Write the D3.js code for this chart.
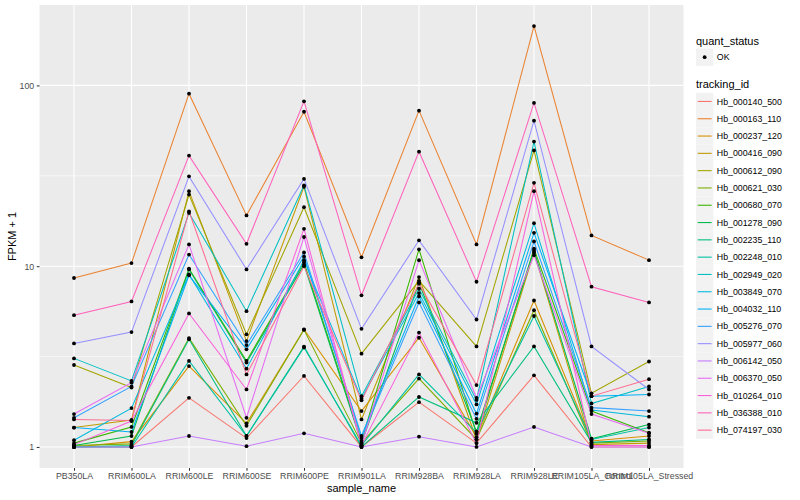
<!DOCTYPE html>
<html>
<head>
<meta charset="utf-8">
<script src="https://cdn.jsdelivr.net/npm/d3@7"></script>
<style>
  body { margin: 0; background: #fff; }
  text { font-family: "Liberation Sans", Arial, sans-serif; }
</style>
</head>
<body>
<div id="chart"></div>
<script>
// samples on the x axis
var samples = ["PB350LA", "RRIM600LA", "RRIM600LE", "RRIM600SE", "RRIM600PE", "RRIM901LA",
  "RRIM928BA", "RRIM928LA", "RRIM928LE", "RRIM105LA_Control", "RRIM105LA_Stressed"];

// tracking ids (legend order)
var trackingIds = ["Hb_000140_500", "Hb_000163_110", "Hb_000237_120", "Hb_000416_090", "Hb_000612_090",
  "Hb_000621_030", "Hb_000680_070", "Hb_001278_090", "Hb_002235_110", "Hb_002248_010",
  "Hb_002949_020", "Hb_003849_070", "Hb_004032_110", "Hb_005276_070", "Hb_005977_060",
  "Hb_006142_050", "Hb_006370_050", "Hb_010264_010", "Hb_036388_010", "Hb_074197_030"];

// FPKM + 1 per tracking id, one value per sample
var fpkm = [
  [1.0, 1.0, 1.87, 1.12, 2.47, 1.0, 1.77, 1.05, 2.49, 1.0, 1.0],
  [8.6, 10.4, 90, 19.1, 71.5, 11.2, 72.5, 13.2, 213, 14.8, 10.8],
  [1.0, 1.07, 2.8, 1.35, 4.47, 1.58, 4.02, 1.13, 6.46, 1.08, 1.15],
  [1.28, 1.41, 26, 3.85, 27.5, 1.42, 8.7, 1.1, 11.9, 1.03, 1.05],
  [2.84, 2.13, 24.9, 4.2, 21.2, 3.28, 8.3, 3.6, 43.7, 1.98, 2.97],
  [1.02, 1.04, 4.0, 1.31, 4.45, 1.05, 2.39, 1.1, 5.71, 1.05, 1.08],
  [1.05, 1.29, 9.7, 2.99, 10.5, 1.08, 12.4, 1.18, 12.5, 1.58, 1.2],
  [1.02, 1.15, 9.6, 2.93, 10.2, 1.05, 8.1, 1.22, 12.2, 1.11, 1.33],
  [1.0, 1.02, 3.94, 1.15, 3.59, 1.0, 1.89, 1.36, 3.6, 1.06, 1.1],
  [1.0, 1.0, 2.99, 1.15, 3.55, 1.02, 2.52, 1.2, 5.3, 1.1, 1.28],
  [3.09, 2.32, 19.7, 5.64, 28, 1.91, 7.5, 1.82, 48.9, 1.74, 2.16],
  [1.09, 1.64, 9.0, 2.71, 10.8, 1.85, 7.1, 1.72, 17.3, 1.6, 1.47],
  [1.28, 1.21, 8.9, 3.47, 11.3, 1.15, 6.8, 1.53, 15.3, 1.91, 1.95],
  [1.45, 2.16, 11.6, 3.66, 11.9, 1.12, 6.3, 1.43, 13.7, 1.65, 1.58],
  [3.74, 4.32, 31.4, 9.6, 30.4, 4.5, 13.9, 5.07, 63.8, 3.6, 2.08],
  [1.0, 1.0, 1.15, 1.01, 1.19, 1.0, 1.14, 1.0, 1.29, 1.0, 1.0],
  [1.52, 2.27, 13.2, 1.45, 14.5, 1.03, 10.8, 1.87, 11.5, 1.52, 1.19],
  [1.03, 1.39, 5.48, 2.08, 16.1, 1.02, 4.29, 1.05, 26, 1.02, 1.02],
  [5.36, 6.38, 40.9, 13.3, 81.6, 6.9, 43, 8.2, 80, 7.7, 6.3],
  [1.42, 1.40, 20.1, 2.52, 10.0, 1.81, 8.0, 2.2, 28.9, 1.91, 2.37]
];

var yTicks = [1, 10, 100];
var yMinor = [Math.sqrt(10), Math.sqrt(1000)];

// ggplot default hue palette for 20 groups
var colors = ["#F8766D", "#EA8331", "#D89000", "#C09B00", "#A3A500", "#7CAE00", "#39B600", "#00BB4E",
  "#00BF7D", "#00C1A3", "#00BFC4", "#00BAE0", "#00B0F6", "#35A2FF", "#9590FF", "#C77CFF",
  "#E76BF3", "#FA62DB", "#FF62BC", "#FF6C91"];

var W = 800, H = 500;
var panel = {left: 39.5, top: 5, right: 683.5, bottom: 468};

var svg = d3.select("#chart").append("svg")
  .attr("width", W).attr("height", H);

svg.append("rect").attr("width", W).attr("height", H).attr("fill", "#fff");

var x = d3.scalePoint()
  .domain(samples)
  .range([panel.left, panel.right])
  .padding(0.6);

// log scale with ggplot's 5% expansion in log space
var lmin = 0, lmax = Math.log10(d3.max(fpkm, function(r){ return d3.max(r); }));
var ex = (lmax - lmin) * 0.05;
var y = d3.scaleLog()
  .domain([Math.pow(10, lmin - ex), Math.pow(10, lmax + ex)])
  .range([panel.bottom, panel.top]);

// panel background
svg.append("rect")
  .attr("x", panel.left).attr("y", panel.top)
  .attr("width", panel.right - panel.left).attr("height", panel.bottom - panel.top)
  .attr("fill", "#EBEBEB");

var grid = svg.append("g");
grid.selectAll(".minor").data(yMinor.filter(function(v){ return y(v) > panel.top; }))
  .enter().append("line")
  .attr("x1", panel.left).attr("x2", panel.right)
  .attr("y1", function(d){ return y(d); }).attr("y2", function(d){ return y(d); })
  .attr("stroke", "#fff").attr("stroke-width", 0.55);
grid.selectAll(".major").data(yTicks)
  .enter().append("line")
  .attr("x1", panel.left).attr("x2", panel.right)
  .attr("y1", function(d){ return y(d); }).attr("y2", function(d){ return y(d); })
  .attr("stroke", "#fff").attr("stroke-width", 1.1);
grid.selectAll(".xg").data(samples)
  .enter().append("line")
  .attr("x1", function(d){ return x(d); }).attr("x2", function(d){ return x(d); })
  .attr("y1", panel.top).attr("y2", panel.bottom)
  .attr("stroke", "#fff").attr("stroke-width", 1.1);

// lines
var line = d3.line()
  .x(function(d, i){ return x(samples[i]); })
  .y(function(d){ return y(d); });

svg.append("g").selectAll("path").data(fpkm)
  .enter().append("path")
  .attr("d", line)
  .attr("fill", "none")
  .attr("stroke", function(d, i){ return colors[i]; })
  .attr("stroke-width", 1.05);

// points
var pts = [];
fpkm.forEach(function(r){ r.forEach(function(v, j){ pts.push({s: samples[j], v: v}); }); });
svg.append("g").selectAll("circle").data(pts)
  .enter().append("circle")
  .attr("cx", function(d){ return x(d.s); })
  .attr("cy", function(d){ return y(d.v); })
  .attr("r", 1.9)
  .attr("fill", "#000");

// axes
var xAxis = svg.append("g")
  .attr("transform", "translate(0," + panel.bottom + ")")
  .call(d3.axisBottom(x).tickSize(2.75).tickPadding(2.5));
var yAxis = svg.append("g")
  .attr("transform", "translate(" + panel.left + ",0)")
  .call(d3.axisLeft(y).tickValues(yTicks).tickFormat(d3.format("d")).tickSize(2.75).tickPadding(2.5));
[xAxis, yAxis].forEach(function(a){
  a.select(".domain").remove();
  a.selectAll(".tick line").attr("stroke", "#333333").attr("stroke-width", 1.05);
  a.selectAll(".tick text").attr("fill", "#4D4D4D")
    .style("font-family", "'Liberation Sans', Arial, sans-serif").style("font-size", "8.8px");
});

svg.append("text")
  .attr("x", (panel.left + panel.right) / 2).attr("y", 492)
  .attr("text-anchor", "middle").style("font-size", "11px").attr("fill", "#000")
  .text("sample_name");
svg.append("text")
  .attr("transform", "translate(16," + ((panel.top + panel.bottom) / 2) + ") rotate(-90)")
  .attr("text-anchor", "middle").style("font-size", "11px").attr("fill", "#000")
  .text("FPKM + 1");

// legends
var lg = svg.append("g");
var keyX = 696, keyW = 17.3;
lg.append("text").attr("x", keyX).attr("y", 44.5).style("font-size", "11px").text("quant_status");
lg.append("rect").attr("x", keyX).attr("y", 48.5).attr("width", keyW).attr("height", keyW).attr("fill", "#F2F2F2");
lg.append("circle").attr("cx", keyX + keyW / 2).attr("cy", 48.5 + keyW / 2).attr("r", 1.9).attr("fill", "#000");
lg.append("text").attr("x", keyX + keyW + 3.5).attr("y", 48.5 + keyW / 2 + 3.1)
  .style("font-size", "8.8px").text("OK");

lg.append("text").attr("x", keyX).attr("y", 88).style("font-size", "11px").text("tracking_id");
var items = lg.selectAll(".item").data(trackingIds).enter().append("g")
  .attr("transform", function(d, i){ return "translate(" + keyX + "," + (92.8 + i * keyW) + ")"; });
items.append("rect").attr("width", keyW).attr("height", keyW).attr("fill", "#F2F2F2");
items.append("line")
  .attr("x1", 1.7).attr("x2", keyW - 1.7)
  .attr("y1", keyW / 2).attr("y2", keyW / 2)
  .attr("stroke", function(d, i){ return colors[i]; }).attr("stroke-width", 1.1);
items.append("text").attr("x", keyW + 3.5).attr("y", keyW / 2 + 3.1)
  .style("font-size", "8.8px").text(function(d){ return d; });
</script>
</body>
</html>
